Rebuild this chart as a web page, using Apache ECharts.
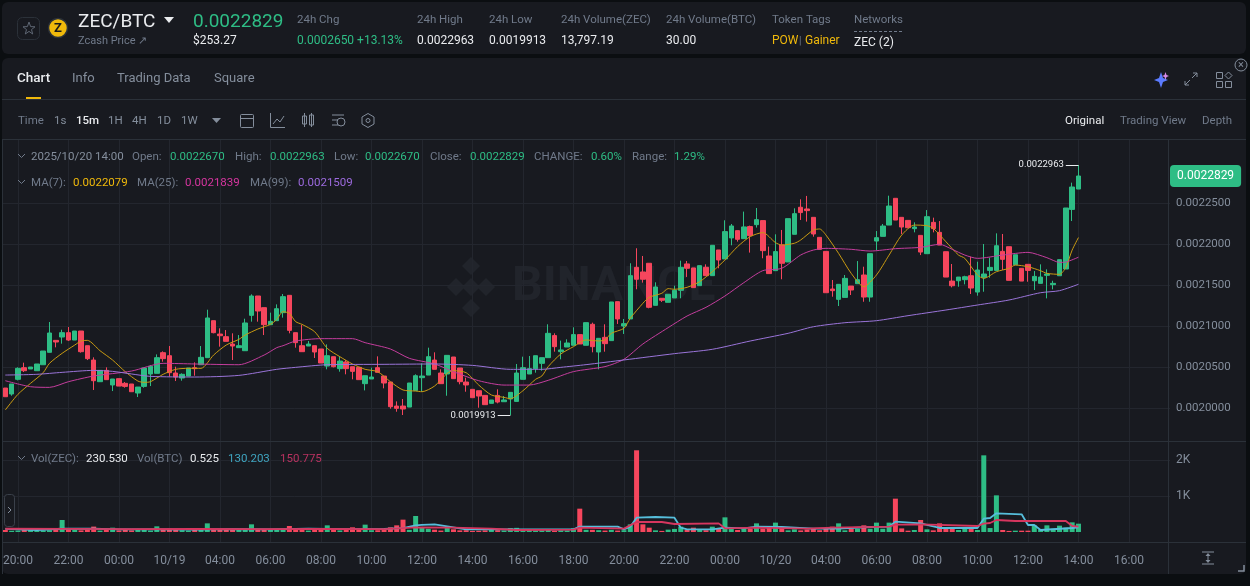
<!DOCTYPE html>
<html><head><meta charset="utf-8">
<style>html,body{margin:0;padding:0;background:#0B0E11}#c{width:1250px;height:586px}</style>
<script src="https://cdn.jsdelivr.net/npm/echarts@6/dist/echarts.min.js"></script>
</head><body><div id="c"></div>
<script>
// Prices are stored in units of 1e-7 BTC.
const PRICE_UNIT = 1e-7;
const tickLabels = ['20:00','22:00','00:00','10/19','04:00','06:00','08:00','10:00','12:00','14:00','16:00','18:00','20:00','22:00','00:00','10/20','04:00','06:00','08:00','10:00','12:00','14:00','16:00'];
const priceTicks = [20000,20500,21000,21500,22000,22500];
const volTicks = [1000,2000];
const opens = [20244,20171,20350,20492,20476,20455,20528,20679,20825,20866,20919,20829,20939,20760,20585,20321,20459,20281,20358,20301,20293,20183,20264,20415,20423,20675,20638,20427,20366,20390,20492,20528,20614,21065,20902,20870,20780,20736,20699,21130,21366,21224,21016,21065,21163,21374,20919,20760,20756,20760,20720,20512,20626,20480,20561,20504,20496,20297,20354,20492,20390,20317,20024,20024,20012,20215,20370,20402,20585,20427,20415,20622,20488,20317,20228,20211,20154,20057,20154,20077,20110,20081,20350,20415,20480,20545,20614,20883,20687,20744,20765,20895,20765,21021,20683,20862,20822,21297,21000,21086,21716,21659,21765,21252,21338,21289,21342,21435,21757,21708,21492,21716,21614,21927,21818,22074,22163,22065,22212,22236,22285,21854,21675,21988,21781,22118,22448,22427,22325,22081,21910,21451,21325,21349,21487,21516,21622,21353,22036,22093,22231,22557,22325,22288,22187,22105,21882,22264,22142,21906,21548,21552,21565,21613,21414,21593,21678,21678,21910,21967,21748,21703,21752,21552,21520,21618,21504,21613,21695,22422,22670];
const closes = [20138,20293,20484,20455,20500,20537,20695,20915,20805,20919,20829,20939,20687,20602,20333,20459,20346,20354,20268,20264,20199,20256,20488,20508,20614,20602,20431,20378,20411,20488,20480,20618,21098,20919,20882,20813,20756,20760,21037,21366,21183,21016,21057,21211,21358,20947,20797,20687,20780,20683,20549,20638,20504,20573,20480,20447,20346,20394,20378,20435,20305,20016,19996,19988,20305,20394,20390,20626,20472,20297,20642,20358,20321,20281,20126,20146,20041,20098,20073,20098,20191,20427,20492,20480,20638,20614,20911,20748,20708,20793,20895,20781,21041,20748,20850,20785,21293,21086,21029,21614,21570,21570,21228,21476,21314,21387,21435,21716,21704,21468,21736,21614,21984,21805,22151,22220,22057,22208,22102,22297,21919,21639,21907,21765,22309,22370,22383,22407,22122,21935,21406,21431,21508,21581,21439,21565,21353,21882,22077,22219,22463,22292,22207,22199,22207,21902,22333,22187,21987,21597,21491,21597,21601,21463,21683,21634,21715,21979,21813,21557,21869,21548,21678,21605,21597,21634,21520,21809,22439,22695,22829];
const highs = [20244,20293,20496,20553,20500,20537,20695,21049,20825,20955,20988,20939,20939,20760,20618,20459,20496,20354,20358,20317,20293,20256,20488,20524,20654,20691,20756,20504,20423,20488,20557,20756,21199,21065,20972,20951,20911,20890,21089,21386,21366,21224,21163,21264,21390,21374,20919,21012,20817,20760,20720,20776,20626,20630,20585,20504,20496,20394,20492,20630,20390,20317,20081,20110,20305,20411,20545,20736,20679,20472,20642,20622,20488,20370,20228,20211,20154,20098,20228,20146,20191,20537,20626,20634,20638,20614,21021,20911,20822,20838,20984,20895,21041,21041,20850,21021,21293,21297,21086,21765,21948,21854,21765,21533,21338,21387,21492,21797,21793,21708,21736,21752,21984,21927,22289,22244,22163,22395,22224,22439,22285,21968,22118,22171,22309,22435,22545,22586,22325,22081,21910,21561,21508,21622,21487,21792,21723,21882,22158,22244,22589,22557,22325,22288,22264,22105,22414,22321,22280,21906,21756,21597,21613,21845,21784,22000,21833,22130,22122,21967,21869,21703,21752,21670,21752,21691,21552,21809,22439,22748,22963];
const lows = [20138,20150,20337,20439,20476,20455,20528,20679,20740,20785,20817,20829,20675,20585,20220,20321,20346,20207,20268,20248,20199,20134,20248,20268,20423,20565,20382,20329,20333,20390,20394,20528,20614,20911,20748,20813,20585,20736,20699,21053,21053,20890,21016,21065,21102,20911,20736,20687,20756,20610,20549,20472,20496,20443,20411,20350,20346,20215,20354,20435,20240,19992,19955,19915,20012,20215,20199,20402,20472,20297,20150,20358,20289,20199,20126,20004,20041,20057,20057,20077,19913,20081,20350,20415,20431,20455,20614,20687,20594,20744,20765,20781,20765,20679,20472,20687,20822,21025,20903,21086,21448,21529,21216,21252,21293,21289,21342,21338,21598,21468,21492,21614,21614,21704,21818,21984,22029,22065,21895,22200,21826,21639,21675,21570,21781,22118,22293,22273,22089,21935,21406,21357,21244,21349,21378,21516,21296,21296,21926,22093,22231,22292,22122,22199,22142,21865,21882,22142,21987,21597,21471,21479,21508,21390,21370,21418,21589,21678,21683,21557,21748,21548,21540,21439,21520,21337,21447,21613,21695,22280,22670];
const volumes = [55,35,40,70,70,35,45,50,60,333,70,60,45,60,150,40,55,120,45,55,45,60,55,40,157,60,90,60,50,40,60,90,240,80,70,60,70,55,55,213,75,70,65,55,75,167,70,60,40,60,55,185,60,45,70,130,65,204,50,50,75,130,185,343,60,444,120,90,65,40,110,75,45,50,30,35,45,60,50,40,110,115,40,50,35,40,55,35,45,40,100,648,60,60,50,40,60,40,50,213,2270,213,120,46,30,65,85,148,55,120,55,50,148,95,407,90,55,90,90,240,90,120,260,120,46,75,45,70,85,50,100,148,240,46,90,90,185,90,260,90,260,926,100,37,55,333,74,46,240,120,120,55,90,90,55,2130,110,1018,55,30,37,37,37,185,74,185,90,176,120,268,231];
// Moving averages at [candle index, value]
const ma7Points = [[0,19976],[2,20167],[4,20301],[6,20431],[7,20545],[9,20667],[11,20768],[12,20817],[13,20825],[15,20699],[17,20585],[19,20443],[21,20329],[22,20313],[23,20321],[25,20411],[27,20472],[29,20484],[31,20484],[33,20646],[35,20768],[37,20837],[38,20890],[40,20963],[42,21020],[43,21081],[44,21175],[45,21154],[46,21053],[47,21020],[49,20931],[51,20728],[53,20626],[55,20537],[57,20472],[59,20443],[61,20321],[63,20220],[65,20207],[66,20199],[68,20268],[70,20423],[71,20455],[73,20431],[75,20280],[77,20159],[79,20130],[80,20114],[82,20211],[84,20350],[85,20391],[86,20505],[88,20659],[90,20748],[92,20830],[94,20818],[95,20830],[96,20911],[98,20972],[99,21094],[101,21277],[102,21350],[104,21399],[105,21456],[106,21448],[108,21472],[110,21541],[112,21663],[114,21805],[116,21968],[118,22090],[120,22139],[122,22017],[123,21988],[125,22009],[126,22049],[128,22170],[129,22183],[130,22109],[132,21886],[134,21642],[136,21479],[138,21622],[140,21865],[142,22109],[144,22231],[146,22223],[147,22191],[149,22028],[151,21865],[152,21825],[154,21622],[155,21581],[157,21662],[159,21703],[160,21743],[162,21723],[164,21674],[165,21642],[167,21630],[168,21715],[169,21926],[170,22079]];
const ma25Points = [[0,20333],[4,20260],[7,20252],[10,20321],[14,20390],[20,20451],[25,20545],[30,20537],[37,20528],[41,20646],[43,20736],[44,20760],[46,20817],[50,20846],[55,20846],[57,20797],[61,20720],[64,20606],[68,20537],[71,20443],[75,20333],[79,20280],[83,20280],[86,20338],[90,20444],[95,20505],[98,20594],[101,20781],[105,20980],[108,21122],[111,21228],[114,21366],[117,21529],[120,21675],[123,21704],[126,21866],[128,21926],[130,21947],[134,21935],[137,21914],[141,21943],[145,21959],[148,21996],[150,21935],[152,21865],[154,21825],[158,21865],[162,21898],[165,21833],[167,21776],[168,21780],[170,21839]];
const ma99Points = [[0,20402],[5,20411],[9,20435],[14,20459],[17,20447],[20,20415],[23,20386],[30,20378],[37,20398],[43,20472],[46,20496],[51,20528],[60,20533],[68,20537],[74,20520],[80,20472],[85,20472],[88,20496],[92,20529],[98,20586],[106,20663],[112,20716],[118,20817],[124,20911],[128,20991],[133,21040],[138,21065],[143,21126],[149,21195],[154,21256],[159,21317],[164,21406],[167,21431],[170,21509]];
const volMa7Points = [[0,85],[5,55],[9,90],[14,90],[18,75],[24,70],[30,65],[36,80],[42,70],[48,90],[54,80],[60,85],[63,110],[65,185],[66,200],[68,213],[70,157],[73,74],[80,74],[90,74],[91,148],[97,148],[98,74],[99,148],[100,398],[103,417],[106,398],[107,120],[108,74],[112,74],[114,120],[117,100],[119,148],[123,139],[128,93],[132,93],[137,139],[140,148],[141,287],[145,240],[148,111],[154,111],[155,370],[156,389],[157,518],[161,491],[162,194],[163,194],[164,55],[169,111],[170,130]];
const volMa25Points = [[0,90],[10,85],[20,80],[30,85],[40,80],[50,85],[60,80],[65,130],[71,120],[77,93],[81,55],[90,65],[91,120],[98,93],[100,278],[104,278],[106,222],[113,240],[114,102],[119,120],[127,93],[131,120],[140,148],[141,204],[145,213],[154,167],[155,232],[156,250],[157,333],[160,306],[168,306],[169,167],[170,151]];

const GREEN='#2EBD85',RED='#F6465D',GRID='#23262E',LINE='#2B3139',FONT='Roboto, sans-serif';
const GREY='#848E9C',DIM='#707A8A',WHITE='#EAECEF',PANEL='#181A20';
const futureSlots = 14;
const total = opens.length + futureSlots;
const categories = Array.from({length: total}, (_, i) => (i - 2) % 8 === 0 && i >= 2 ? tickLabels[(i - 2) / 8] : '');
const isTick = i => i >= 2 && (i - 2) % 8 === 0;
const P = v => +(v * PRICE_UNIT).toFixed(7);
const candleData = opens.map((o, i) => [P(o), P(closes[i]), P(lows[i]), P(highs[i])]);
const volData = volumes.map((v, i) => ({value: v, itemStyle: {color: closes[i] >= opens[i] ? GREEN : RED}}));
const scaled = pts => pts.map(p => [p[0], P(p[1])]);

const g = [];
const T = (x, y, text, fill, size, weight, align) => g.push({type:'text', x, y:y+2, silent:true, z:50,
  style:{text, fill, font:`${weight||400} ${size||12}px ${FONT}`, textAlign:align||'left', textVerticalAlign:'middle'}});
const R = (x, y, w, h, o) => g.push(Object.assign({type:'rect', silent:true, z:o.z===undefined?49:o.z,
  shape:{x,y,width:w,height:h,r:o.r||0}, style:{fill:o.fill||'none', stroke:o.stroke||'none', lineWidth:o.lw||1}}));
const L = (x1, y1, x2, y2, stroke, lw, dash) => g.push({type:'line', silent:true, z:49,
  shape:{x1,y1,x2,y2}, style:{stroke, lineWidth:lw||1, lineDash:dash||null}});
const C = (cx, cy, r, o) => g.push({type:'circle', silent:true, z:49, shape:{cx,cy,r}, style:{fill:o.fill||'none', stroke:o.stroke||'none', lineWidth:o.lw||1}});
const PL = (pts, stroke, fill, lw) => g.push({type:'polyline', silent:true, z:49, shape:{points:pts}, style:{stroke, fill:fill||'none', lineWidth:lw||1}});
const PG = (pts, fill) => g.push({type:'polygon', silent:true, z:49, shape:{points:pts}, style:{fill}});

// panels
R(2,2,1244,52,{fill:PANEL,r:6,z:-20});
R(2,58,1244,516,{fill:PANEL,r:6,z:-20});
// header
R(17.5,17.5,22,22,{stroke:'#2B3139',r:5});
PL([[29,22],[30.6,26.6],[35,26.8],[31.5,29.6],[32.7,34],[29,31.4],[25.3,34],[26.5,29.6],[23,26.8],[27.4,26.6],[29,22]],'#5E6673');
C(58,28,9.5,{fill:'#F0B90B',stroke:'#2B3139',lw:1.5});
T(58,27,'Z','#1a1a1a',13,700,'center');
T(78,20,'ZEC/BTC',WHITE,19,400);
PG([[164,17],[174,17],[169,23]],WHITE);
T(78,39,'Zcash Price ↗',DIM,11);
T(193,20,'0.0022829',GREEN,19,400);
T(193,39,'$253.27',WHITE,12);
T(297,18,'24h Chg',DIM,11.5); T(297,39,'0.0002650 +13.13%',GREEN,12);
T(417,18,'24h High',DIM,11.5); T(417,39,'0.0022963',WHITE,12);
T(489,18,'24h Low',DIM,11.5); T(489,39,'0.0019913',WHITE,12);
T(561,18,'24h Volume(ZEC)',DIM,11.5); T(561,39,'13,797.19',WHITE,12);
T(666,18,'24h Volume(BTC)',DIM,11.5); T(666,39,'30.00',WHITE,12);
T(772,18,'Token Tags',DIM,11.5); T(772,39,'POW','#F0B90B',12); T(799,39,'|',DIM,10); T(805,39,'Gainer','#F0B90B',12);
T(854,18,'Networks',DIM,11.5); L(854,31.5,903,31.5,DIM,1,[3,2]); T(854,41,'ZEC (2)',WHITE,12);
// tabs
T(17,77,'Chart',WHITE,13.5,500); T(72,77,'Info',GREY,13); T(117,77,'Trading Data',GREY,13); T(214,77,'Square',GREY,13);
R(26,97,15,2.5,{fill:'#F0B90B'});
L(2,99.5,1246,99.5,LINE);
// top-right icons
PG([[1161,72],[1163,78],[1168,80],[1163,82],[1161,88],[1159,82],[1154,80],[1159,78]],'#5B7BFF');
PG([[1165.5,72],[1166.5,75],[1169,76],[1166.5,77],[1165.5,80],[1164.5,77],[1162,76],[1164.5,75]],'#D98BE8');
L(1185,85,1190,80,GREY); L(1192,78,1197,73,GREY);
PL([[1193,73],[1197,73],[1197,77]],GREY); PL([[1185,81],[1185,85],[1189,85]],GREY);
R(1216.5,72.5,6,6,{stroke:GREY}); R(1216.5,81.5,6,6,{stroke:GREY}); R(1225.5,81.5,6,6,{stroke:GREY});
PL([[1228.5,72],[1232,75.5],[1228.5,79],[1225,75.5],[1228.5,72]],GREY);
C(1241,65,6,{stroke:GREY}); T(1241,63,'×',GREY,11,400,'center');
// toolbar
T(18,119,'Time',DIM,11.5);
[['1s',54],['1H',108],['4H',132],['1D',157],['1W',181]].forEach(a=>T(a[1],119,a[0],GREY,11.5));
T(76,119,'15m',WHITE,11.5,500);
PG([[212,118],[221,118],[216.5,123]],GREY);
R(240.5,114.5,13,13,{stroke:GREY,r:1}); L(241,118.5,253,118.5,GREY);
L(270.5,113,270.5,127.5,GREY); L(270.5,127.5,285,127.5,GREY); PL([[273,124],[277,119],[280,122],[284,116]],GREY);
R(302.5,116,4,8,{stroke:GREY}); L(304.5,113,304.5,127,GREY); R(309.5,115,4,10,{stroke:GREY}); L(311.5,113,311.5,127,GREY);
L(332,115,344,115,GREY); L(332,120,338,120,GREY); L(332,125,338,125,GREY); C(341,122,4,{stroke:GREY});
PL([[368,113.5],[374,117],[374,124],[368,127.5],[362,124],[362,117],[368,113.5]],GREY); C(368,120.5,2,{stroke:GREY});
T(1065,119,'Original',WHITE,11.5); T(1120,119,'Trading View',DIM,11.5); T(1202,119,'Depth',DIM,11.5);
L(2,139.5,1246,139.5,LINE);
// legend rows
const chev = y => PL([[18,y-2],[21.5,y+1.5],[25,y-2]],DIM);
chev(156);
T(31,155,'2025/10/20 14:00',GREY,11.5);
[['Open:',132,'0.0022670',170],['High:',235,'0.0022963',270],['Low:',334,'0.0022670',365],['Close:',430,'0.0022829',470],['CHANGE:',534,'0.60%',591],['Range:',632,'1.29%',674]]
 .forEach(a=>{T(a[1],155,a[0],DIM,11.5);T(a[3],155,a[2],GREEN,11.5);});
chev(182);
T(31,181,'MA(7):',DIM,11.5); T(73,181,'0.0022079','#F0B90B',11.5);
T(137,181,'MA(25):',DIM,11.5); T(185,181,'0.0021839','#D6359F',11.5);
T(250,181,'MA(99):',DIM,11.5); T(298,181,'0.0021509','#9C6ADE',11.5);
chev(458);
T(31,457,'Vol(ZEC):',DIM,11.5); T(86,457,'230.530',WHITE,11.5);
T(137,457,'Vol(BTC)',DIM,11.5); T(190,457,'0.525',WHITE,11.5);
T(228,457,'130.203','#3FA5C0',11.5); T(280,457,'150.775','#B83260',11.5);
// separators
L(2.5,139,2.5,574,LINE);
L(2,441.5,1246,441.5,LINE);
L(2,542.5,1246,542.5,LINE);
L(1168.5,139,1168.5,574,LINE);
// collapse tab + scale icon
R(4.5,494.5,10,32,{stroke:'#3a404a',r:3,fill:PANEL}); PL([[8,507],[11,510],[8,513]],GREY);
L(1202,552,1214,552,GREY); L(1202,564,1214,564,GREY); L(1208,554,1208,562,GREY);
PG([[1208,553],[1205.5,556],[1210.5,556]],GREY); PG([[1208,563],[1205.5,560],[1210.5,560]],GREY);
PL([[1238,571],[1244,571],[1244,565]],GREY,null,1.5);
// watermark
const WM='#21242B';
[[471,266,6],[456,287,6],[486,287,6],[471,287,6],[471,308,6]].forEach(d=>PG([[d[0],d[1]-d[2]*1.5],[d[0]+d[2]*1.5,d[1]],[d[0],d[1]+d[2]*1.5],[d[0]-d[2]*1.5,d[1]]],WM));
g.slice(-5).forEach(e=>e.z=-5);
g.push({type:'text',x:512,y:288,silent:true,z:-5,style:{text:'BINANCE',fill:WM,font:`700 48px ${FONT}`,textVerticalAlign:'middle'}});

const xBase = {type:'category', data:categories, boundaryGap:true,
  axisLine:{show:false}, axisTick:{show:false},
  splitLine:{show:true, alignWithLabel:true, interval:(i)=>isTick(i), lineStyle:{color:GRID,width:1}}};
const option = {
  backgroundColor:'#0B0E11', animation:false,
  textStyle:{fontFamily:FONT},
  graphic:{elements:g},
  grid:[{left:2.14,right:80,top:140,height:301},{left:2.14,right:80,top:441,height:101}],
  xAxis:[
    Object.assign({},xBase,{gridIndex:0,axisLabel:{show:false}}),
    Object.assign({},xBase,{gridIndex:1,axisLabel:{show:true,interval:0,color:GREY,fontSize:12,fontFamily:FONT,margin:13}})
  ],
  yAxis:[
    {type:'value',gridIndex:0,position:'right',scale:true,min:P(19598),max:P(23268),
     axisLine:{show:false},
     axisTick:{show:false,customValues:priceTicks.map(P)},
     axisLabel:{show:true,customValues:priceTicks.map(P),color:GREY,fontSize:11.5,fontFamily:FONT,margin:6,formatter:v=>v.toFixed(7)},
     splitLine:{show:true,lineStyle:{color:GRID}}},
    {type:'value',gridIndex:1,position:'right',min:-278,max:2528,
     axisLine:{show:false},
     axisTick:{show:false,customValues:volTicks},
     axisLabel:{show:true,customValues:volTicks,color:GREY,fontSize:12,fontFamily:FONT,margin:6,formatter:v=>(v/1000)+'K'},
     splitLine:{show:true,lineStyle:{color:GRID}}}
  ],
  series:[
    {type:'candlestick',name:'ZEC/BTC',xAxisIndex:0,yAxisIndex:0,data:candleData,barWidth:5,z:3,
     itemStyle:{color:GREEN,color0:RED,borderColor:GREEN,borderColor0:RED,borderWidth:1},
     markLine:{silent:true,symbol:'none',animation:false,precision:7,
       lineStyle:{color:WHITE,type:'solid',width:1},
       label:{color:WHITE,fontSize:9.5,fontFamily:FONT,position:'start',distance:2},
       data:[
         [{coord:[168,P(highs[170])],label:{formatter:P(highs[170]).toFixed(7)}},{coord:[170,P(highs[170])]}],
         [{coord:[78,P(lows[80])],label:{formatter:P(lows[80]).toFixed(7)}},{coord:[80,P(lows[80])]}],
         {yAxis:P(closes[170]),lineStyle:{color:'rgba(0,0,0,0)'},
          label:{show:true,position:'end',distance:0,formatter:P(closes[170]).toFixed(7),color:'#fff',fontSize:12,backgroundColor:GREEN,borderRadius:4,padding:[5,7,5,7]}}
       ]}},
    {type:'line',name:'MA(7)',xAxisIndex:0,yAxisIndex:0,data:scaled(ma7Points),symbol:'none',smooth:0.25,lineStyle:{color:'#C99A12',width:1},z:4},
    {type:'line',name:'MA(25)',xAxisIndex:0,yAxisIndex:0,data:scaled(ma25Points),symbol:'none',smooth:0.25,lineStyle:{color:'#C43D9D',width:1},z:4},
    {type:'line',name:'MA(99)',xAxisIndex:0,yAxisIndex:0,data:scaled(ma99Points),symbol:'none',smooth:0.25,lineStyle:{color:'#9A74D9',width:1},z:4},
    {type:'bar',name:'Vol(ZEC)',xAxisIndex:1,yAxisIndex:1,data:volData,barWidth:5,z:3},
    {type:'line',name:'Vol MA short',xAxisIndex:1,yAxisIndex:1,data:volMa7Points,symbol:'none',lineStyle:{color:'#56BEDB',width:1.8},z:4},
    {type:'line',name:'Vol MA long',xAxisIndex:1,yAxisIndex:1,data:volMa25Points,symbol:'none',lineStyle:{color:'#D6365F',width:1.8},z:5}
  ]
};
const chart = echarts.init(document.getElementById('c'));
chart.setOption(option);
</script></body></html>
